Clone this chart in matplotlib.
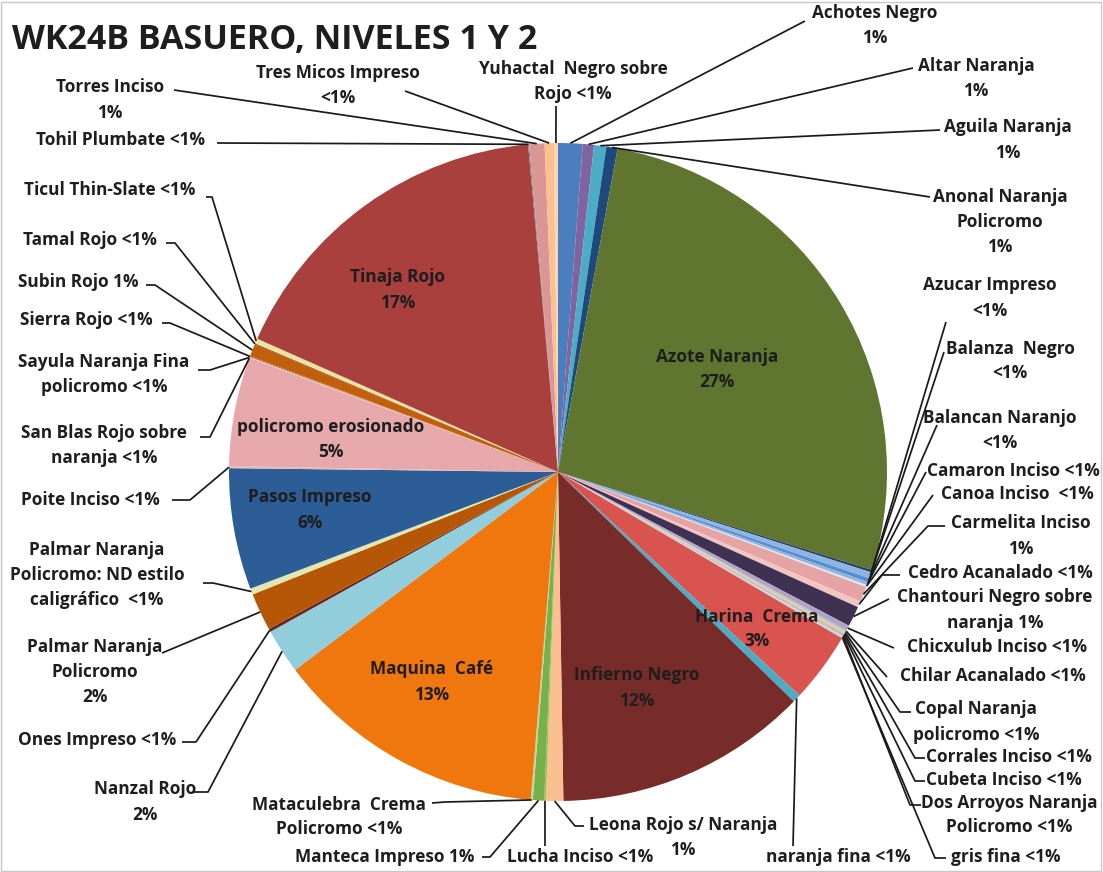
import matplotlib
matplotlib.use("Agg")
import numpy as np
import matplotlib.pyplot as plt
from matplotlib.patches import Rectangle

W, H = 1103, 872

# ceramic types, clockwise from 12 o'clock
categories = [
    "Achotes Negro", "Altar Naranja", "Aguila Naranja", "Anonal Naranja Policromo",
    "Azote Naranja", "Azucar Impreso", "Balanza Negro", "Balancan Naranjo",
    "Camaron Inciso", "Canoa Inciso", "Carmelita Inciso", "Cedro Acanalado",
    "Chantouri Negro sobre naranja", "Chicxulub Inciso", "Chilar Acanalado",
    "Copal Naranja policromo", "Corrales Inciso", "Cubeta Inciso",
    "Dos Arroyos Naranja Policromo", "gris fina", "Harina Crema", "naranja fina",
    "Infierno Negro", "Leona Rojo s/ Naranja", "Lucha Inciso", "Manteca Impreso",
    "Mataculebra Crema Policromo", "Maquina Café", "Nanzal Rojo", "Ones Impreso",
    "Palmar Naranja Policromo", "Palmar Naranja Policromo: ND estilo caligráfico",
    "Pasos Impreso", "Poite Inciso", "policromo erosionado",
    "San Blas Rojo sobre naranja", "Sayula Naranja Fina policromo", "Sierra Rojo",
    "Subin Rojo", "Tamal Rojo", "Ticul Thin-Slate", "Tinaja Rojo", "Tohil Plumbate",
    "Torres Inciso", "Tres Micos Impreso", "Yuhactal Negro sobre Rojo",
]

# share of sherds (%)
values = [
    1.2, 0.55, 0.6, 0.55,
    26.9, 0.12, 0.3, 0.2,
    0.15, 0.1, 0.75, 0.3,
    1.0, 0.25, 0.08,
    0.08, 0.06, 0.06,
    0.08, 0.08, 3.45, 0.4,
    12.45, 0.85, 0.08, 0.55,
    0.1, 13.4, 2.2, 0.15,
    1.85, 0.3,
    5.95, 0.1, 5.3,
    0.05, 0.05, 0.05,
    0.6, 0.05, 0.25, 16.9, 0.05,
    0.75, 0.45, 0.2,
]

# label text, "{}" is replaced by the rounded percentage
label_fmt = [
    "Achotes Negro\n{}", "Altar Naranja\n{}", "Aguila Naranja\n{}", "Anonal Naranja\nPolicromo\n{}",
    "Azote Naranja\n{}", "Azucar Impreso\n{}", "Balanza  Negro\n{}", "Balancan Naranjo\n{}",
    "Camaron Inciso {}", "Canoa Inciso  {}", "Carmelita Inciso\n{}", "Cedro Acanalado {}",
    "Chantouri Negro sobre\nnaranja {}", "Chicxulub Inciso {}", "Chilar Acanalado {}",
    "Copal Naranja\npolicromo {}", "Corrales Inciso {}", "Cubeta Inciso {}",
    "Dos Arroyos Naranja\nPolicromo {}", "gris fina {}", "Harina  Crema\n{}", "naranja fina {}",
    "Infierno Negro\n{}", "Leona Rojo s/ Naranja\n{}", "Lucha Inciso {}", "Manteca Impreso {}",
    "Mataculebra  Crema\nPolicromo {}", "Maquina  Café\n{}", "Nanzal Rojo\n{}", "Ones Impreso {}",
    "Palmar Naranja\nPolicromo\n{}", "Palmar Naranja\nPolicromo: ND estilo\ncaligráfico  {}",
    "Pasos Impreso\n{}", "Poite Inciso {}", "policromo erosionado\n{}",
    "San Blas Rojo sobre\nnaranja {}", "Sayula Naranja Fina\npolicromo {}", "Sierra Rojo {}",
    "Subin Rojo {}", "Tamal Rojo {}", "Ticul Thin-Slate {}", "Tinaja Rojo\n{}", "Tohil Plumbate {}",
    "Torres Inciso\n{}", "Tres Micos Impreso\n{}", "Yuhactal  Negro sobre\nRojo {}",
]

colors = [
    "#4a7ebf", "#8064a2", "#4bacc6", "#1f497d",
    "#5f7530", "#254061", "#8eb4e3", "#558ed5",
    "#95b3d7", "#dce6f2", "#e6a3a3", "#f2c4c4",
    "#3f3151", "#b3a2c7", "#93cddd",
    "#fac090", "#c3d69b", "#d99694",
    "#ccc1da", "#b7dee8", "#d9534f", "#4bacc6",
    "#772c2a", "#fabf8f", "#9bbb59", "#77b14a",
    "#c3d69b", "#f0760e", "#92cddc", "#632523",
    "#b65708", "#e0e8b0",
    "#2c5d96", "#e6b9b8", "#e6a8aa",
    "#d99694", "#fcd5b5", "#c0504d",
    "#c0600a", "#953735", "#ebe3a0", "#a9403e", "#7f7f7f",
    "#d99694", "#fac090", "#fcd5b5",
]

# label placement in pixel coords (from top-left): text centre, leader start, optional elbow
inside = {
    "Azote Naranja": (717, 370), "Tinaja Rojo": (398, 290),
    "policromo erosionado": (331, 440), "Pasos Impreso": (310, 510),
    "Harina Crema": (757, 629), "Maquina Café": (432, 682),
    "Infierno Negro": (637, 688),
}
outside = {
    "Achotes Negro": ((875, 26), [(805, 21)]),
    "Altar Naranja": ((976, 79), [(913, 68)]),
    "Aguila Naranja": ((1008, 140), [(940, 130)]),
    "Anonal Naranja Policromo": ((1000, 222), [(930, 197)]),
    "Azucar Impreso": ((990, 298), [(946, 322)]),
    "Balanza Negro": ((1010, 361), [(944, 352)]),
    "Balancan Naranjo": ((1000, 431), [(937, 425)]),
    "Camaron Inciso": ((1013, 471), [(926, 472)]),
    "Canoa Inciso": ((1017, 494), [(933, 495)]),
    "Carmelita Inciso": ((1021, 536), [(945, 526), (928, 526)]),
    "Cedro Acanalado": ((1000, 573), [(900, 575), (882, 575)]),
    "Chantouri Negro sobre naranja": ((995, 610), [(889, 599)]),
    "Chicxulub Inciso": ((997, 647), [(894, 648)]),
    "Chilar Acanalado": ((993, 676), [(887, 677)]),
    "Copal Naranja policromo": ((976, 722), [(911, 712), (900, 712)]),
    "Corrales Inciso": ((1009, 757), [(925, 758), (915, 758)]),
    "Cubeta Inciso": ((1004, 780), [(925, 781), (915, 781)]),
    "Dos Arroyos Naranja Policromo": ((1009, 815), [(921, 805), (910, 805)]),
    "gris fina": ((1006, 857), [(946, 858), (935, 858)]),
    "naranja fina": ((838, 857), [(793, 846)]),
    "Leona Rojo s/ Naranja": ((683, 837), [(584, 826), (575, 826)]),
    "Lucha Inciso": ((580, 857), [(545, 846)]),
    "Manteca Impreso": ((385, 857), [(482, 857), (490, 857)]),
    "Mataculebra Crema Policromo": ((339, 817), [(432, 803), (445, 802)]),
    "Nanzal Rojo": ((145, 802), [(192, 792), (208, 792)]),
    "Ones Impreso": ((97, 740), [(182, 742), (196, 742)]),
    "Palmar Naranja Policromo": ((95, 672), [(162, 653)]),
    "Palmar Naranja Policromo: ND estilo caligráfico": ((97, 575), [(203, 583), (213, 583)]),
    "Poite Inciso": ((90, 500), [(172, 500), (190, 500)]),
    "San Blas Rojo sobre naranja": ((104, 446), [(200, 437), (210, 437)]),
    "Sayula Naranja Fina policromo": ((104, 375), [(198, 370), (210, 370)]),
    "Sierra Rojo": ((86, 320), [(162, 323), (170, 323)]),
    "Subin Rojo": ((78, 282), [(146, 285), (155, 285)]),
    "Tamal Rojo": ((90, 240), [(166, 243), (175, 243)]),
    "Ticul Thin-Slate": ((110, 190), [(206, 197), (212, 197)]),
    "Tohil Plumbate": ((121, 140), [(217, 143)]),
    "Torres Inciso": ((110, 100), [(174, 90)]),
    "Tres Micos Impreso": ((338, 86), [(405, 91)]),
    "Yuhactal Negro sobre Rojo": ((573, 82), [(556, 106)]),
}

CX, CY, R = 558, 472, 329
TEXT = "#1e1e1e"
FONT = "Open Sans"
LSIZE = 12.4
LINE_PX = 25


def yp(y):
    return H - y


def put_label(x, y, txt):
    # one text per line so the lines sit on a fixed pixel pitch
    rows = txt.split("\n")
    for i, row in enumerate(rows):
        ry = y + (i - (len(rows) - 1) / 2) * LINE_PX
        ax.text(x, yp(ry), row, ha="center", va="center", fontsize=LSIZE,
                fontweight="bold", color=TEXT, family=FONT)


fig = plt.figure(figsize=(W / 100, H / 100), dpi=100)
ax = fig.add_axes([0, 0, 1, 1])

wedges, _ = ax.pie(values, colors=colors, startangle=90, counterclock=False,
                   center=(CX, yp(CY)), radius=R,
                   wedgeprops=dict(linewidth=0))
ax.set_xlim(0, W)
ax.set_ylim(0, H)
ax.set_aspect("equal")
ax.axis("off")

total = sum(values)
for name, fmt, v, w in zip(categories, label_fmt, values, wedges):
    pct = int(v / total * 100 + 0.5)
    txt = fmt.format("<1%" if pct < 1 else f"{pct}%")
    if name in inside:
        put_label(*inside[name], txt)
        continue
    (x, y), pts = outside[name]
    put_label(x, y, txt)
    mid = np.deg2rad((w.theta1 + w.theta2) / 2)
    ex, ey = w.center[0] + w.r * np.cos(mid), w.center[1] + w.r * np.sin(mid)
    xs = [p[0] for p in pts] + [ex]
    ys = [yp(p[1]) for p in pts] + [ey]
    ax.plot(xs, ys, color="#1a1a1a", lw=1.25, solid_capstyle="butt")

ax.text(12, yp(40), "WK24B BASUERO, NIVELES 1 Y 2", ha="left", va="center",
        fontsize=24.5, fontweight="bold", color=TEXT, family=FONT)

ax.add_patch(Rectangle((1, 1), W - 3, H - 3, fill=False, ec="#c8c8c8", lw=1))

fig.savefig("out.png", dpi=100)
